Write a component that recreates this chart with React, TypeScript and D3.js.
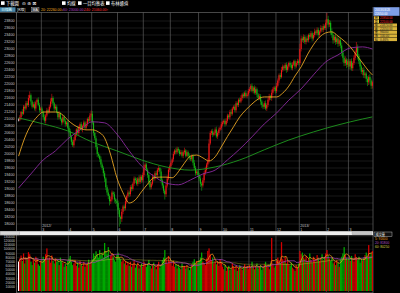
import { useEffect } from 'react';
import * as d3 from 'd3';

// 日線 2012/02 ~ 2013/03 (trading days per month)
const monthDays = [19, 22, 19, 21, 21, 22, 23, 19, 22, 22, 19, 22, 18, 20];
const monthYear = ['', '2012/', '', '', '', '', '', '', '', '', '', '2013/', '', ''];
const monthNum = ['2', '3', '4', '5', '6', '7', '8', '9', '10', '11', '12', '1', '2', '3'];

// daily closes
const closes = [
  // 2012/2
  20980, 21050, 21200, 21150, 21350, 21300, 21450, 21400, 21600, 21680, 21500, 21350, 21420, 21300, 21480, 21550, 21400, 21250, 21300,
  // 3
  21200, 21050, 20950, 21100, 21250, 21200, 21350, 21500, 21600, 21450, 21300, 21350, 21200, 21050, 21150, 21000, 20900, 21050, 20950, 20850, 20900, 20750,
  // 4
  20650, 20500, 20350, 20250, 20400, 20550, 20700, 20600, 20750, 20850, 20700, 20800, 20900, 20750, 20850, 21000, 20950, 21100, 21150,
  // 5
  20900, 20600, 20450, 20200, 20000, 19950, 19850, 19700, 19600, 19450, 19300, 19050, 18900, 18800, 18650, 18700, 18900, 18850, 18700, 18650, 18600,
  // 6
  18400, 18200, 18150, 18350, 18500, 18450, 18650, 18800, 18900, 18850, 19050, 19000, 19150, 19300, 19250, 19150, 19300, 19200, 19350, 19250, 19400,
  // 7
  19600, 19700, 19550, 19400, 19200, 19050, 19150, 19350, 19300, 19450, 19400, 19550, 19600, 19500, 19250, 19100, 18950, 18850, 19100, 19300, 19550, 19650,
  // 8
  19750, 19850, 20000, 20100, 20050, 20150, 20100, 20000, 20050, 19950, 20050, 20100, 19950, 20050, 19950, 19900, 19850, 19950, 19750, 19600, 19450, 19500, 19400,
  // 9
  19300, 19150, 19100, 19250, 19450, 19550, 19700, 19800, 20300, 20600, 20650, 20550, 20600, 20700, 20500, 20600, 20700, 20750, 20850,
  // 10
  20900, 20950, 20850, 20950, 21100, 21050, 21200, 21150, 21300, 21350, 21250, 21450, 21400, 21550, 21500, 21600, 21700, 21650, 21750, 21650, 21700, 21800,
  // 11
  21850, 21950, 21800, 21900, 21750, 21850, 21700, 21600, 21650, 21500, 21400, 21350, 21450, 21300, 21400, 21550, 21650, 21600, 21750, 21850, 21900, 21800,
  // 12
  21950, 22100, 22250, 22200, 22400, 22500, 22450, 22550, 22400, 22500, 22600, 22550, 22450, 22550, 22650, 22500, 22600, 22650, 22600,
  // 2013/1
  23000, 23300, 23250, 23350, 23200, 23300, 23250, 23400, 23350, 23450, 23300, 23400, 23500, 23450, 23550, 23400, 23500, 23600, 23550, 23650, 23600, 23750,
  // 2
  23850, 23700, 23750, 23500, 23400, 23250, 23350, 23200, 23300, 23150, 23250, 23100, 22900, 22750, 22600, 22700, 22550, 22650,
  // 3
  22500, 22650, 22450, 22600, 22750, 22900, 23050, 22800, 22650, 22500, 22350, 22400, 22250, 22300, 22150, 22050, 22200, 22100, 21950, 22050,
];

// upper / lower shadow length (points)
const hiWick = [
  40, 60, 30, 80, 50, 40, 70, 60, 90, 110, 50, 40, 60, 80, 50, 40, 70, 60, 50,
  60, 40, 80, 50, 70, 40, 60, 90, 120, 50, 40, 70, 60, 30, 80, 50, 40, 60, 70, 50, 40, 60,
  50, 70, 40, 60, 80, 50, 40, 90, 60, 50, 70, 40, 60, 50, 80, 40, 60, 70, 90,
  80, 50, 40, 70, 60, 50, 40, 80, 60, 50, 70, 40, 60, 90, 50, 80, 60, 40, 70, 50, 60,
  70, 60, 40, 80, 50, 60, 90, 40, 70, 50, 60, 80, 40, 60, 50, 70, 40, 90, 60, 50, 70,
  90, 60, 50, 40, 70, 60, 50, 80, 40, 60, 70, 50, 60, 40, 80, 50, 60, 40, 70, 90, 60, 50,
  60, 50, 70, 40, 80, 60, 50, 40, 70, 60, 50, 80, 40, 60, 50, 70, 60, 40, 50, 80, 60, 50, 40,
  60, 80, 50, 70, 60, 90, 50, 80, 120, 60, 50, 70, 40, 60, 80, 50, 60, 40, 70,
  50, 40, 60, 70, 50, 40, 60, 80, 50, 40, 70, 60, 50, 40, 60, 80, 50, 60, 40, 70, 50, 60,
  60, 50, 70, 40, 60, 80, 50, 40, 70, 60, 50, 40, 60, 80, 50, 60, 70, 40, 90, 60, 50, 40,
  80, 60, 50, 70, 90, 60, 40, 50, 70, 60, 40, 50, 60, 70, 40, 50, 60, 70, 50,
  150, 80, 60, 70, 50, 60, 80, 40, 60, 70, 50, 60, 80, 50, 70, 60, 40, 80, 60, 70, 50, 90,
  180, 100, 80, 60, 90, 70, 50, 80, 60, 70, 50, 60, 80, 70, 60, 90, 50, 60,
  70, 60, 80, 50, 70, 60, 150, 80, 60, 70, 50, 60, 80, 40, 60, 70, 50, 80, 60, 50,
];
const loWick = [
  50, 40, 70, 60, 30, 80, 50, 40, 60, 70, 90, 50, 40, 60, 80, 50, 40, 70, 60,
  40, 70, 60, 80, 50, 60, 40, 50, 70, 60, 80, 50, 40, 70, 60, 50, 80, 60, 40, 70, 60, 50,
  60, 80, 90, 50, 70, 40, 60, 50, 70, 60, 40, 80, 50, 60, 70, 50, 40, 60, 50,
  60, 80, 50, 70, 90, 60, 80, 70, 60, 90, 100, 80, 70, 90, 120, 80, 60, 70, 90, 80, 100,
  120, 280, 150, 90, 70, 80, 60, 70, 50, 80, 60, 70, 50, 60, 80, 50, 70, 60, 50, 70, 60,
  60, 70, 50, 80, 90, 70, 60, 50, 80, 60, 70, 50, 60, 70, 90, 80, 70, 150, 80, 60, 50, 70,
  50, 60, 70, 40, 60, 50, 70, 60, 40, 50, 70, 60, 50, 40, 60, 70, 50, 60, 80, 60, 70, 50, 60,
  80, 90, 150, 60, 70, 50, 60, 80, 70, 50, 60, 70, 40, 60, 50, 70, 60, 50, 60,
  60, 50, 70, 40, 60, 50, 70, 60, 50, 40, 60, 70, 50, 60, 40, 50, 70, 60, 50, 40, 60, 50,
  50, 60, 40, 70, 50, 60, 80, 70, 60, 90, 80, 70, 60, 50, 70, 60, 50, 60, 80, 60, 50, 70,
  60, 50, 70, 60, 40, 50, 70, 60, 80, 50, 60, 70, 50, 60, 40, 70, 50, 60, 70,
  60, 70, 50, 80, 60, 70, 50, 60, 70, 50, 80, 60, 70, 50, 60, 70, 80, 50, 60, 70, 50, 60,
  60, 80, 70, 90, 80, 100, 70, 80, 60, 90, 70, 80, 100, 120, 90, 80, 100, 70,
  80, 90, 70, 80, 60, 70, 90, 100, 80, 90, 70, 100, 80, 90, 100, 110, 80, 90, 100, 80,
];

// 成交量 (thousands)
const volumeK = [
  70, 78, 85, 72, 90, 66, 80, 75, 93, 88, 70, 62, 75, 68, 82, 77, 64, 60, 72,
  70, 82, 76, 88, 102, 74, 80, 68, 85, 72, 66, 78, 70, 74, 62, 80, 71, 68, 58, 65, 60, 72,
  78, 84, 70, 62, 66, 74, 60, 68, 56, 72, 64, 60, 70, 58, 62, 68, 75, 64, 70,
  76, 90, 84, 95, 88, 80, 98, 86, 92, 80, 115, 96, 88, 105, 78, 84, 90, 82, 74, 70, 86,
  92, 80, 76, 70, 74, 66, 72, 62, 68, 60, 70, 58, 64, 72, 56, 62, 68, 54, 60, 66, 58,
  70, 64, 58, 66, 74, 60, 54, 62, 68, 58, 52, 64, 70, 56, 62, 74, 80, 98, 76, 66, 84, 72,
  68, 60, 72, 58, 64, 54, 62, 56, 52, 66, 58, 60, 54, 62, 56, 50, 58, 64, 70, 76, 66, 72, 68,
  74, 80, 92, 70, 66, 62, 78, 96, 102, 88, 74, 80, 66, 72, 64, 70, 60, 76, 68,
  58, 52, 62, 48, 56, 60, 50, 54, 66, 58, 52, 60, 48, 56, 62, 54, 50, 58, 64, 56, 60, 52,
  62, 56, 70, 58, 52, 60, 66, 54, 58, 62, 50, 56, 64, 70, 60, 58, 52, 66, 127, 62, 56, 60,
  72, 80, 74, 68, 117, 76, 70, 82, 66, 72, 64, 60, 68, 56, 52, 48, 62, 58, 66,
  96, 88, 92, 80, 76, 84, 72, 78, 90, 74, 68, 82, 76, 70, 86, 78, 72, 80, 88, 74, 82, 90,
  98, 84, 78, 72, 80, 66, 70, 62, 74, 68, 58, 76, 82, 90, 105, 86, 80, 74,
  78, 72, 84, 76, 70, 88, 80, 74, 82, 68, 76, 72, 80, 86, 92, 78, 110, 84, 90, 96,
];

// moving averages (every 5 / 10 / 20 days, last = final day)
const ma20 = [
  19940, 20460, 20830, 21060, 21200, 21200, 21200, 21140, 20970, 20830, 20740, 20690, 20690, 20630, 20460,
  19970, 19320, 18890, 18600, 18690, 18920, 19140, 19320, 19340, 19340, 19320, 19490, 19740, 19940, 19970,
  19890, 19800, 19920, 20200, 20500, 20780, 21060, 21260, 21430, 21570, 21630, 21630, 21630, 21740, 21940,
  22230, 22490, 22830, 23120, 23340, 23460, 23490, 23370, 23230, 23060, 22830, 22600, 22370, 22260,
];
const ma60 = [
  19030, 19430, 19830, 20090, 20430, 20690, 20920, 20890, 20570, 20090, 19660, 19370, 19170, 19120, 19260,
  19430, 19540, 19830, 20140, 20490, 20860, 21170, 21540, 21860, 22260, 22630, 22830, 23030, 23060, 23000,
];
const ma240 = [21030, 20860, 20660, 20340, 20090, 19830, 19630, 19540, 19630, 19830, 20120, 20400, 20630, 20830, 21000, 21060];

const priceTicks = d3.range(18000, 23801, 200);
const volumeTicks = d3.range(10000, 130001, 10000);

const CJK = "'Noto Sans CJK TC', 'Noto Sans', sans-serif";
const NUM = "'Liberation Sans', Arial, sans-serif";
const UP = '#f01818';
const DOWN = '#14b814';

export default function App() {
  useEffect(() => {
    document.body.style.margin = '0';
    document.body.style.background = '#000';
  }, []);

  const N = closes.length;
  const opens = closes.map((c, i) => (i === 0 ? c : closes[i - 1]));
  const highs = closes.map((c, i) => Math.max(c, opens[i]) + hiWick[i]);
  const lows = closes.map((c, i) => Math.min(c, opens[i]) - loWick[i]);
  const volumes = volumeK.map(v => v * 1000);
  const colorOf = (i: number) => (closes[i] > opens[i] ? UP : closes[i] < opens[i] ? DOWN : '#ffffff');

  const L = 16.5, R = 373;
  const x = d3.scaleBand<number>().domain(d3.range(N)).range([18, R]).padding(0);
  const bw = x.bandwidth();
  const cx = (i: number) => (x(i) ?? 0) + bw / 2;
  const y = d3.scaleLinear().domain([18000, 23800]).range([224, 21]);
  const vy = d3.scaleLinear().domain([0, 130000]).range([291, 236.7]);

  const starts = monthDays.map((_, k) => d3.sum(monthDays.slice(0, k)));

  const sampled = (arr: number[], step: number): [number, number][] =>
    arr.map((v, k) => [k === arr.length - 1 ? N - 1 : k * step, v]);
  const priceLine = d3.line<[number, number]>().x(d => cx(d[0])).y(d => y(d[1])).curve(d3.curveMonotoneX);
  const volLine = d3.line<[number, number]>().x(d => cx(d[0])).y(d => vy(d[1])).curve(d3.curveMonotoneX);

  const volMA = (n: number): [number, number][] =>
    volumes.map((_, i) => [i, d3.mean(volumes.slice(Math.max(0, i - n + 1), i + 1)) as number]);
  const vma5 = volMA(5);
  const vma20 = volMA(20);
  const vma60 = volMA(60);

  const last = N - 1;
  const arrow = (a: number[]) => (a[a.length - 1] >= a[a.length - 2] ? '↑' : '↓');
  const maLegend = [
    { t: `20: ${ma20[ma20.length - 1].toFixed(2)}${arrow(ma20)}`, c: '#f0b020', x: 41 },
    { t: `60: ${ma60[ma60.length - 1].toFixed(2)}${arrow(ma60)}`, c: '#b040c0', x: 63 },
    { t: `240: ${ma240[ma240.length - 1].toFixed(2)}${arrow(ma240)}`, c: '#ff3030', x: 84 },
  ];
  const info = [
    { k: '開', v: opens[last].toFixed(2), red: true },
    { k: '高', v: highs[last].toFixed(2), red: true },
    { k: '低', v: lows[last].toFixed(2) },
    { k: '收', v: closes[last].toFixed(2) },
    { k: '量', v: String(volumes[last]) },
    { k: '漲', v: (closes[last] - closes[last - 1]).toFixed(2) },
    { k: '幅', v: (((closes[last] - closes[last - 1]) / closes[last - 1]) * 100).toFixed(2) + '%' },
  ];

  return (
    <svg width={400} height={293} style={{ position: 'absolute', left: 0, top: 0, background: '#000' }}>
      <rect width={400} height={293} fill="#000" />
      <defs>
        <clipPath id="main"><rect x={L} y={12.5} width={R - L} height={218} /></clipPath>
        <clipPath id="vol"><rect x={L} y={235.5} width={R - L} height={57} /></clipPath>
      </defs>

      {/* toolbar */}
      <g fontFamily={CJK} fontSize={4.3} fill="#fff">
        <rect x={1} y={1.3} width={3.6} height={3.6} fill="#fff" />
        <text x={6} y={5}>下載圖</text>
        <text x={22} y={5.2} fontFamily="'DejaVu Sans'" fontSize={4.6}>⊖ ⊕ ⊠</text>
        <rect x={62} y={1.3} width={3.6} height={3.6} fill="#fff" />
        <text x={67} y={5}>均線</text>
        <rect x={78} y={1.3} width={3.6} height={3.6} fill="#fff" />
        <text x={83} y={5}>一目均衡表</text>
        <rect x={106} y={1.3} width={3.6} height={3.6} fill="#fff" />
        <text x={111} y={5}>布林通道</text>
      </g>
      <g fontFamily={CJK} fontSize={3.6}>
        <rect x={0} y={7.3} width={15.5} height={4.6} fill="#4a86a8" />
        <text x={1.2} y={11} fill="#dff">日線圖</text>
        <text x={17} y={11} fill="#fff">[K線]</text>
        <rect x={31.5} y={7.5} width={7.5} height={4.3} fill="#333" stroke="#bbb" strokeWidth={0.4} />
        <text x={32.5} y={11} fill="#fff" fontFamily={NUM}>MA</text>
        {maLegend.map(m => (
          <text key={m.t} x={m.x} y={11} fill={m.c} fontFamily={NUM} fontSize={3.5}>{m.t}</text>
        ))}
      </g>

      {/* grid */}
      {priceTicks.map(v => (
        <line key={v} x1={L} x2={R} y1={y(v)} y2={y(v)} stroke="#2a2a2a" strokeWidth={0.6} />
      ))}
      {volumeTicks.map(v => (
        <line key={v} x1={L} x2={R} y1={vy(v)} y2={vy(v)} stroke="#222" strokeWidth={0.5} />
      ))}
      {starts.slice(1).map(s => (
        <g key={s}>
          <line x1={x(s)} x2={x(s)} y1={12.5} y2={231} stroke="#5a5a5a" strokeWidth={0.7} />
          <line x1={x(s)} x2={x(s)} y1={235.5} y2={292} stroke="#5a5a5a" strokeWidth={0.7} />
        </g>
      ))}
      <line x1={0} x2={R} y1={12.5} y2={12.5} stroke="#777" strokeWidth={0.6} />
      <line x1={L} x2={L} y1={12.5} y2={293} stroke="#888" strokeWidth={0.6} />
      <line x1={R} x2={R} y1={7} y2={293} stroke="#777" strokeWidth={0.6} />

      {/* y labels */}
      <g fontFamily={NUM} fontSize={3.7} fill="#c8c8c8" textAnchor="end">
        {priceTicks.map(v => (
          <text key={v} x={14.5} y={y(v) + 1.3}>{v}</text>
        ))}
        {volumeTicks.map(v => (
          <text key={v} x={15} y={vy(v) + 1.2} fontSize={3.4}>{v}</text>
        ))}
      </g>

      {/* candles */}
      <g clipPath="url(#main)">
        {closes.map((c, i) => {
          const col = colorOf(i);
          const top = y(Math.max(c, opens[i]));
          const h = Math.max(0.7, y(Math.min(c, opens[i])) - top);
          return (
            <g key={i}>
              <line x1={cx(i)} x2={cx(i)} y1={y(highs[i])} y2={y(lows[i])} stroke={col} strokeWidth={0.55} />
              <rect x={cx(i) - 0.55} y={top} width={1.1} height={h} fill={col} />
            </g>
          );
        })}
        <path d={priceLine(sampled(ma240, 20)) ?? ''} fill="none" stroke="#1f9a1f" strokeWidth={0.9} />
        <path d={priceLine(sampled(ma60, 10)) ?? ''} fill="none" stroke="#8a2a9e" strokeWidth={0.9} />
        <path d={priceLine(sampled(ma20, 5)) ?? ''} fill="none" stroke="#e8a424" strokeWidth={0.9} />
      </g>

      {/* x labels */}
      <g fontFamily={NUM} fontSize={3.6} fill="#c8c8c8">
        {starts.map((s, k) =>
          k === 0 ? null : (
            <g key={s}>
              {monthYear[k] && <text x={(x(s) ?? 0) + 1} y={226.5}>{monthYear[k]}</text>}
              <text x={(x(s) ?? 0) + 1} y={230.6}>{monthNum[k]}</text>
            </g>
          )
        )}
      </g>

      {/* scroll bar */}
      <rect x={0} y={231.2} width={R} height={4} fill="#ededed" />
      <rect x={0.3} y={231.4} width={19} height={3.6} fill="#d6d6d6" stroke="#999" strokeWidth={0.4} />
      <rect x={352} y={231.6} width={20} height={3.2} fill="#c4c4c4" stroke="#999" strokeWidth={0.3} />

      {/* volume */}
      <g clipPath="url(#vol)">
        {volumes.map((v, i) => (
          <rect key={i} x={x(i)} y={vy(v)} width={bw + 0.05} height={vy(0) - vy(v)}
            fill={closes[i] > opens[i] ? '#d40000' : closes[i] < opens[i] ? '#00a800' : '#ffffff'} />
        ))}
        <path d={volLine(vma60) ?? ''} fill="none" stroke="#c8c840" strokeWidth={0.6} opacity={0.7} />
        <path d={volLine(vma20) ?? ''} fill="none" stroke="#a040b0" strokeWidth={0.8} />
        <path d={volLine(vma5) ?? ''} fill="none" stroke="#f0a020" strokeWidth={0.8} />
      </g>
      <line x1={L} x2={R} y1={292.5} y2={292.5} stroke="#666" strokeWidth={0.5} />

      {/* volume legend */}
      <g fontFamily={CJK} fontSize={3.2}>
        <rect x={374} y={232} width={18} height={4.5} fill="#111" stroke="#ddd" strokeWidth={0.4} />
        <text x={375.5} y={235.6} fill="#fff">成交量</text>
        <text x={375} y={240} fill="#f0a020" fontFamily={NUM}>5: {Math.round(vma5[last][1])}</text>
        <text x={375} y={243.8} fill="#b050c0" fontFamily={NUM}>20: {Math.round(vma20[last][1])}</text>
        <text x={375} y={247.6} fill="#d8d040" fontFamily={NUM}>60: {Math.round(vma60[last][1])}</text>
      </g>

      {/* info panel */}
      <g fontFamily={CJK} fontSize={3}>
        <rect x={373.5} y={7.2} width={26} height={8.6} fill="#7d9ee6" />
        <text x={375} y={10.8} fill="#fff" fontFamily={NUM}>2013/03/28</text>
        <text x={375} y={14.6} fill="#fff" fontFamily={NUM}>{closes[last].toFixed(2)}</text>
        {info.map((r, k) => {
          const ry = 16.3 + k * 3.6;
          return r.red ? (
            <g key={r.k}>
              <rect x={374} y={ry} width={5} height={3.2} fill="#e8c040" />
              <text x={374.8} y={ry + 2.6} fill="#000">{r.k}</text>
              <text x={380} y={ry + 2.6} fill="#ff2a2a" fontFamily={NUM}>{r.v}</text>
            </g>
          ) : (
            <g key={r.k}>
              <rect x={374} y={ry} width={23} height={3.2} fill="#d9b23a" />
              <text x={374.8} y={ry + 2.6} fill="#000">{r.k}</text>
              <text x={380} y={ry + 2.6} fill="#222" fontFamily={NUM}>{r.v}</text>
            </g>
          );
        })}
      </g>
    </svg>
  );
}
